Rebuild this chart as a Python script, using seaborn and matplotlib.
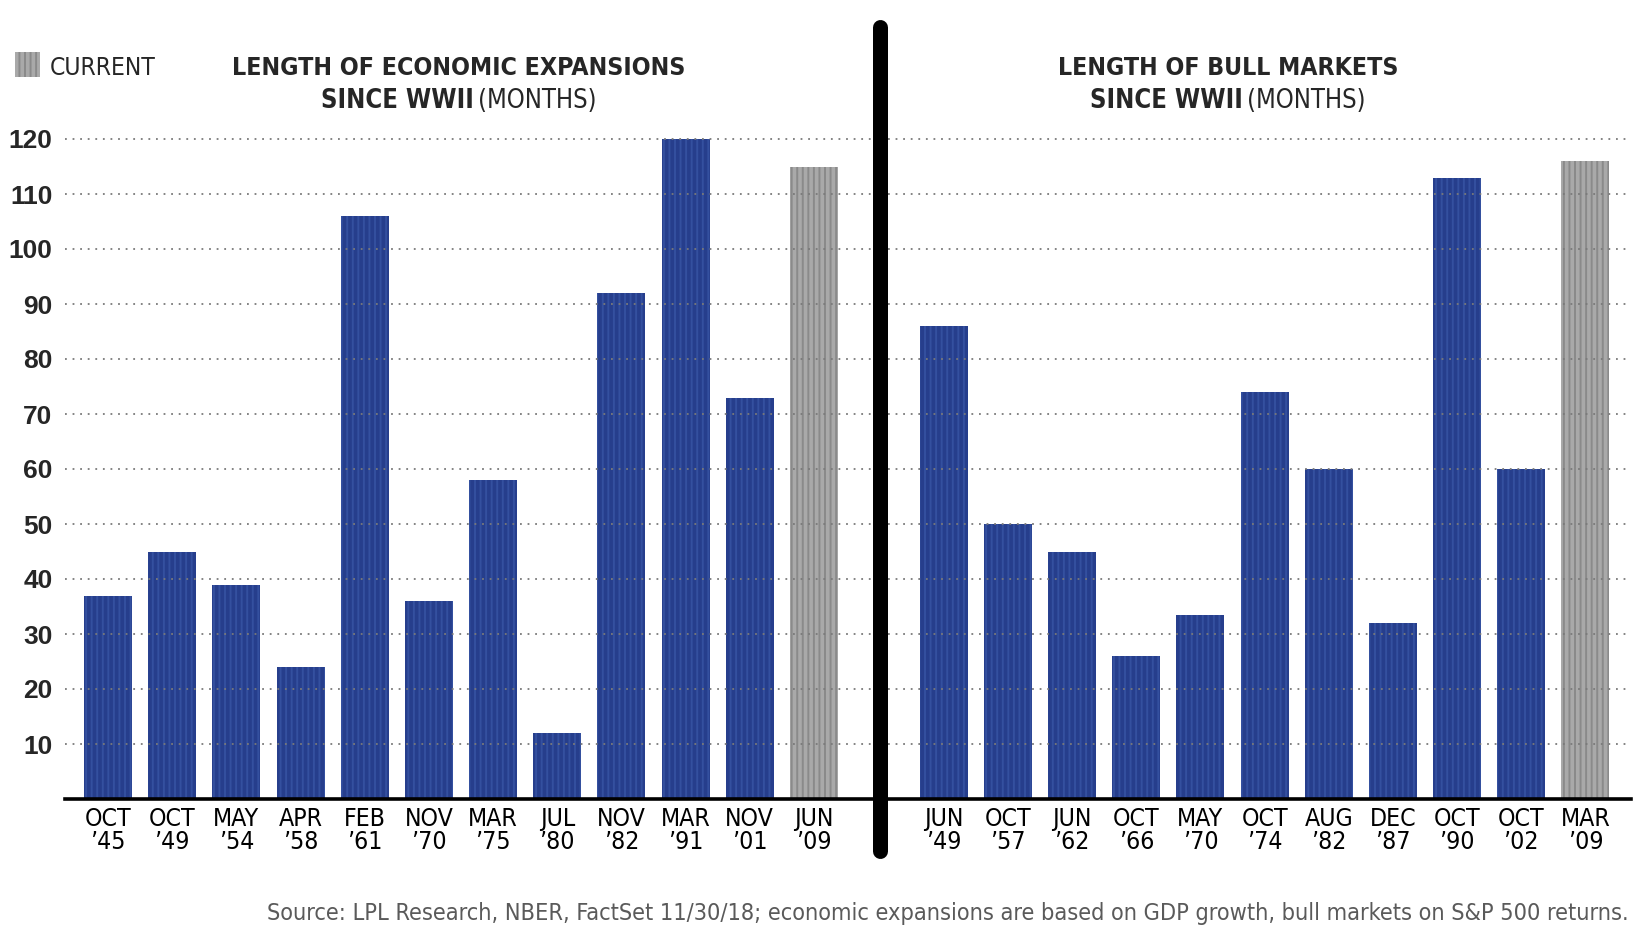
#!/usr/bin/env python3

# ===================== LIBRARIES =====================

import matplotlib.pyplot as plt
from matplotlib import font_manager as fm
from matplotlib.lines import Line2D
from matplotlib.patches import Rectangle
import seaborn as sns
import pandas as pd

# ===================== DATA =====================

expansion_labels = [
    "OCT\n’45", "OCT\n’49", "MAY\n’54", "APR\n’58", "FEB\n’61", "NOV\n’70",
    "MAR\n’75", "JUL\n’80", "NOV\n’82", "MAR\n’91", "NOV\n’01", "JUN\n’09",
]
expansion_months = [37, 45, 39, 24, 106, 36, 58, 12, 92, 120, 73, 115]

bull_labels = [
    "JUN\n’49", "OCT\n’57", "JUN\n’62", "OCT\n’66", "MAY\n’70", "OCT\n’74",
    "AUG\n’82", "DEC\n’87", "OCT\n’90", "OCT\n’02", "MAR\n’09",
]
bull_months = [86, 50, 45, 26, 33.5, 74, 60, 32, 113, 60, 116]

y_ticks = [10, 20, 30, 40, 50, 60, 70, 80, 90, 100, 110, 120]

BLUE = "#263e8c"
BLUE_STRIPE = "#34509f"
GRAY = "#a9a9a9"
GRAY_STRIPE = "#8a8a8a"

W, H = 1650, 934


def px(x, y):
    # pixel position (from top-left) -> figure fraction
    return x / W, 1 - y / H


# ===================== FONTS =====================

def narrow_font(bold=False):
    # look for a condensed / narrow face, fall back to DejaVu Sans
    cands = []
    for f in fm.fontManager.ttflist:
        stretch = str(f.stretch)
        if ("Narrow" in f.name or "Condensed" in f.name
                or stretch in ("condensed", "semi-condensed", "extra-condensed")
                or "Condensed" in f.fname):
            w = f.weight if isinstance(f.weight, int) else (700 if "bold" in str(f.weight) else 400)
            italic = f.style != "normal"
            if italic:
                continue
            cands.append((abs(w - (700 if bold else 400)), f.fname))
    if cands:
        cands.sort()
        return fm.FontProperties(fname=cands[0][1])
    return fm.FontProperties(family="DejaVu Sans",
                             weight="bold" if bold else "normal")


NARROW = narrow_font(False)
NARROW_BOLD = narrow_font(True)


# ===================== FUNCTIONS =====================

def fit_text(fig, renderer, x, y, s, fp, width, size_max, **kw):
    # shrink the font so the text keeps the width it has in the reference
    t = fig.text(*px(x, y), s, fontproperties=fp.copy(), **kw)
    t.set_fontsize(size_max)
    w = t.get_window_extent(renderer).width
    if w > width:
        t.set_fontsize(size_max * width / w)
    return t


def panel(ax, labels, values, xlim, tick_size):
    df = pd.DataFrame({"label": labels, "months": values})
    colors = [BLUE] * (len(labels) - 1) + [GRAY]
    stripes = [BLUE_STRIPE] * (len(labels) - 1) + [GRAY_STRIPE]

    sns.barplot(
        data=df, x="label", y="months", hue="label", palette=colors,
        legend=False, width=0.748, saturation=1, ax=ax
    )
    for patch, sc in zip(ax.patches, stripes):
        patch.set_edgecolor(sc)
        patch.set_linewidth(0)
        patch.set_hatch("|||")

    ax.set_xlim(*xlim)
    ax.set_ylim(0, 122)
    ax.set_yticks(y_ticks)
    ax.set_xlabel("")
    ax.set_ylabel("")

    ax.set_axisbelow(False)
    ax.yaxis.grid(True, color="#7a7a7a", linestyle=(0, (1, 3.2)), linewidth=1.3)
    ax.xaxis.grid(False)

    for side in ["left", "right", "top"]:
        ax.spines[side].set_visible(False)
    ax.spines["bottom"].set_color("black")
    ax.spines["bottom"].set_linewidth(2.6)
    ax.spines["bottom"].set_zorder(5)

    ax.tick_params(axis="both", length=0)
    ax.tick_params(axis="x", pad=6)
    for t in ax.get_xticklabels():
        t.set_fontproperties(NARROW.copy())
        t.set_fontsize(tick_size)
        t.set_linespacing(0.95)
        t.set_color("black")


def two_weight_line(fig, renderer, cx, y, bold_txt, reg_txt, size, width):
    gap = 6
    tb = fig.text(0, 0, bold_txt, fontproperties=NARROW_BOLD.copy(),
                  va="baseline", ha="left")
    tr = fig.text(0, 0, reg_txt, fontproperties=NARROW.copy(),
                  va="baseline", ha="left")
    tb.set_fontsize(size)
    tr.set_fontsize(size)
    wb = tb.get_window_extent(renderer).width
    wr = tr.get_window_extent(renderer).width
    total = wb + gap + wr
    if total > width:
        k = width / total
        tb.set_fontsize(size * k)
        tr.set_fontsize(size * k)
        wb, wr, gap = wb * k, wr * k, gap * k
        total = width
    x0 = cx - total / 2
    tb.set_position(px(x0, y))
    tr.set_position(px(x0 + wb + gap, y))


# ===================== MAIN =====================

def main() -> None:
    sns.set_style("white")
    plt.rcParams["hatch.linewidth"] = 1.4

    fig = plt.figure(figsize=(W / 100, H / 100), dpi=100)
    renderer = fig.canvas.get_renderer()

    bottom = 1 - 799 / H
    height = (799 - 128) / H

    ax1 = fig.add_axes([65 / W, bottom, (873 - 65) / W, height])
    ax2 = fig.add_axes([888 / W, bottom, (1631 - 888) / W, height])

    # tick size so that "MAY" is about as wide as in the reference
    probe = fig.text(0, 0, "MAY", fontproperties=NARROW.copy())
    probe.set_fontsize(21)
    tick_size = min(21, 21 * 46 / probe.get_window_extent(renderer).width)
    probe.remove()

    panel(ax1, expansion_labels, expansion_months, (-0.67, 11.92), tick_size)
    panel(ax2, bull_labels, bull_months, (-0.868, 10.71), tick_size)

    ax1.tick_params(axis="y", pad=9)
    for t in ax1.get_yticklabels():
        t.set_fontfamily(["Liberation Sans", "DejaVu Sans"])
        t.set_fontweight("bold")
        t.set_fontsize(19)
    ax2.set_yticklabels([])

    # thick divider between the two panels
    fig.add_artist(Line2D(
        [880 / W, 880 / W], [1 - 27 / H, 1 - 851 / H],
        color="black", linewidth=10.8, solid_capstyle="round",
        transform=fig.transFigure, zorder=10
    ))

    # legend square
    fig.add_artist(Rectangle(
        px(15, 77), 25 / W, 25 / H, transform=fig.transFigure,
        facecolor=GRAY, edgecolor=GRAY_STRIPE, linewidth=0, hatch="|||"
    ))
    fit_text(fig, renderer, 50, 75, "CURRENT", NARROW, 106, 20,
             va="baseline", ha="left")

    # titles
    fit_text(fig, renderer, 459, 75, "LENGTH OF ECONOMIC EXPANSIONS",
             NARROW_BOLD, 452, 21, va="baseline", ha="center")
    two_weight_line(fig, renderer, 459, 108, "SINCE WWII", "(MONTHS)", 21, 276)
    fit_text(fig, renderer, 1228, 75, "LENGTH OF BULL MARKETS",
             NARROW_BOLD, 340, 21, va="baseline", ha="center")
    two_weight_line(fig, renderer, 1228, 108, "SINCE WWII", "(MONTHS)", 21, 276)

    # source note
    fit_text(
        fig, renderer, 1629, 920,
        "Source: LPL Research, NBER, FactSet 11/30/18; economic expansions are "
        "based on GDP growth, bull markets on S&P 500 returns.",
        NARROW, 1368, 21, color="#5a5a5a", va="baseline", ha="right"
    )

    fig.savefig("out.png", dpi=100)
    plt.close("all")


if __name__ == "__main__":
    main()
